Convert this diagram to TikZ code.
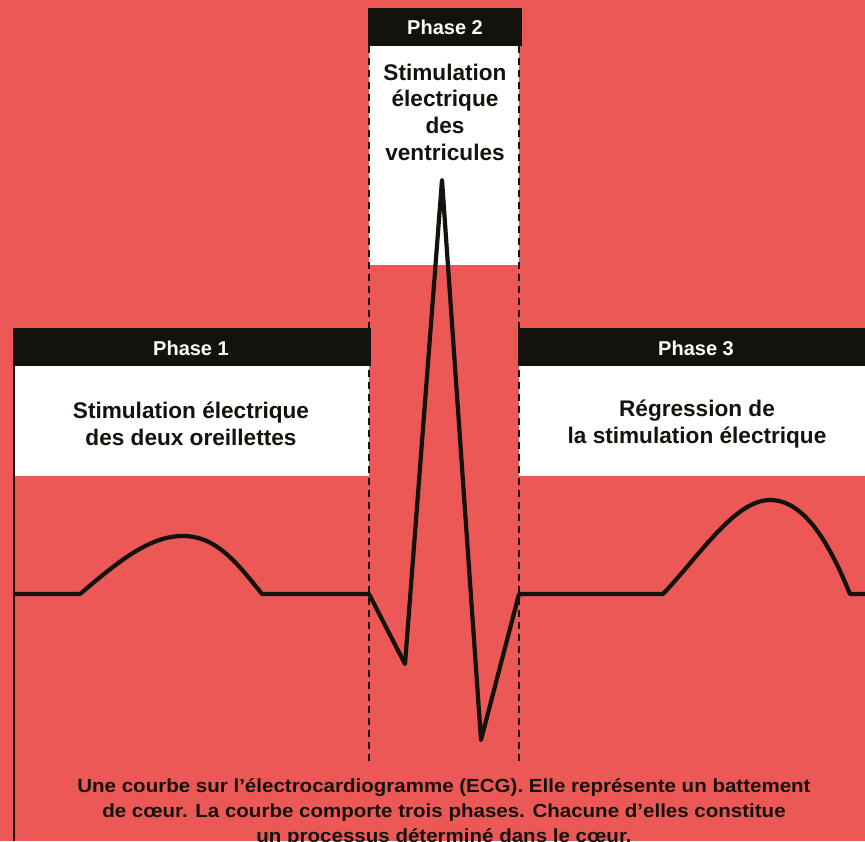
\documentclass[tikz,border=0pt]{standalone}
\usepackage{fontspec}
\setmainfont{Liberation Sans}
\newfontfamily\capfont[FakeStretch=1.08]{Liberation Sans}
\definecolor{bgred}{RGB}{236,88,86}
\definecolor{ink}{RGB}{19,18,13}
\begin{document}
\begin{tikzpicture}[x=1pt,y=-1pt,
  header/.style={fill=none,draw=none,inner sep=0pt,text=white,font=\bfseries\fontsize{20}{23}\selectfont},
  boxtext/.style={text=ink,align=center,inner sep=0pt,font=\bfseries\fontsize{22.6}{26.7}\selectfont},
  divider/.style={ink,line width=2.2pt,dash pattern=on 7pt off 5pt},
  ecg/.style={ink,line width=4.2pt,line join=round,line cap=butt},
  caption/.style={text=ink,align=center,inner sep=0pt,font=\capfont\bfseries\fontsize{19}{25}\selectfont}]
\fill[bgred] (0,0) rectangle (865,841);
\useasboundingbox (0,0) rectangle (865,841);
% white boxes
\fill[white] (15,366) rectangle (369,476);
\fill[white] (369,46) rectangle (519,265);
\fill[white] (519,366) rectangle (865,476);
% headers
\fill[ink] (13,328) rectangle (371,366);
\fill[ink] (368,8) rectangle (522,46);
\fill[ink] (518,328) rectangle (865,366);
\node[header] (h1) at (191,348) {Phase 1};
\node[header] (h2) at (445,27) {Phase 2};
\node[header] (h3) at (696,348) {Phase 3};
% dividers
\coordinate (d1t) at (369,46); \coordinate (d1b) at (369,765);
\coordinate (d2t) at (519,46); \coordinate (d2b) at (519,765);
\draw[divider] (d1t) -- (d1b);
\draw[divider] (d2t) -- (d2b);
% left axis
\coordinate (axt) at (14,328); \coordinate (axb) at (14,841);
\draw[ink,line width=2pt] (axt) -- (axb);
% ECG curve
\draw[ecg] (14,594) -- (80,594)
  .. controls (120,560) and (150,536) .. (183,536)
  .. controls (215,536) and (235,560) .. (262,594)
  -- (369,594) -- (405,664) -- (442,180) -- (481,740) -- (519,594)
  -- (663,594)
  .. controls (700,555) and (735,500) .. (770,500)
  .. controls (805,500) and (830,545) .. (850,594)
  -- (865,594);
% texts
\node[boxtext] (t1) at (191,424) {Stimulation électrique\\des deux oreillettes};
\node[boxtext] (t2) at (445,112) {Stimulation\\électrique\\des\\ventricules};
\node[boxtext] (t3) at (697,424) {Régression de\\la stimulation électrique};
\node[caption,anchor=base] (cap) at (444,842) {Une courbe sur l’électrocardiogramme (ECG). Elle représente un battement\\de cœur. La courbe comporte trois phases. Chacune d’elles constitue\\un processus déterminé dans le cœur.};
\end{tikzpicture}
\end{document}
